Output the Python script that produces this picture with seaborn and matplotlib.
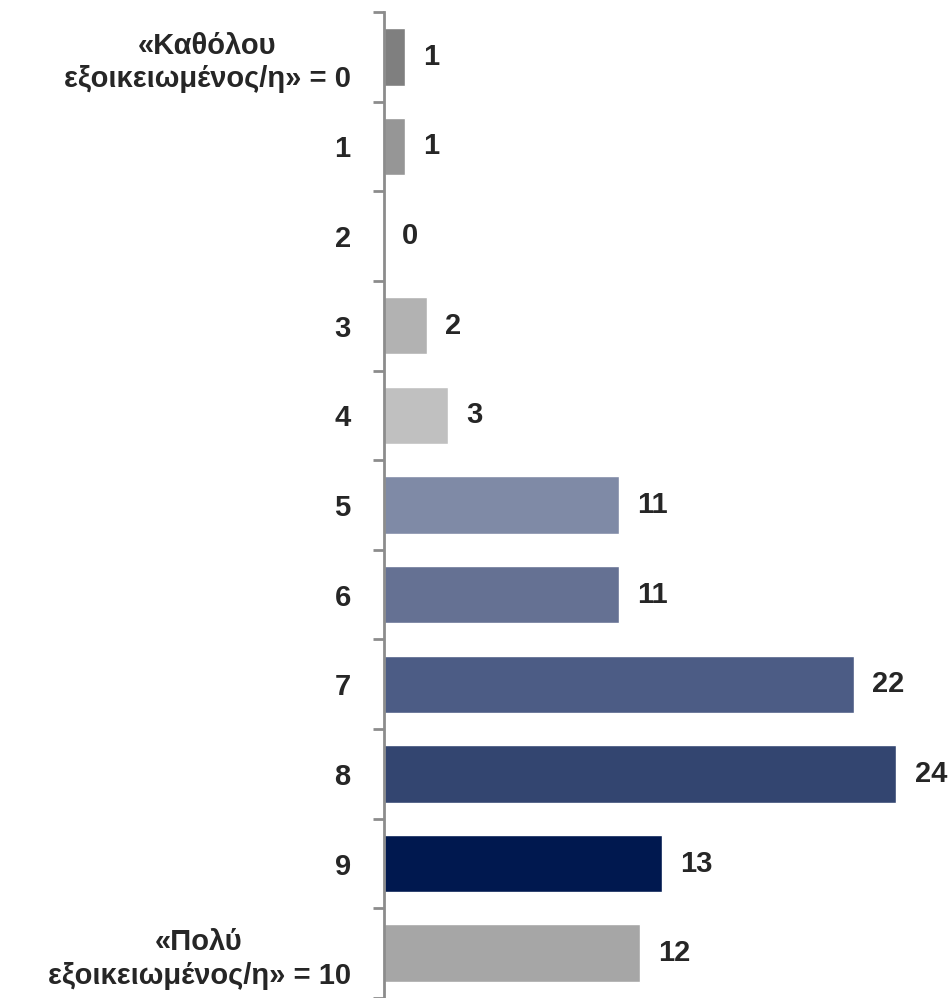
import matplotlib
matplotlib.use("Agg")
import matplotlib.pyplot as plt
import seaborn as sns
import pandas as pd

# Data
categories = ["«Καθόλου\nεξοικειωμένος/η» = 0", "1", "2", "3", "4", "5",
              "6", "7", "8", "9", "«Πολύ\nεξοικειωμένος/η» = 10"]
values = [1, 1, 0, 2, 3, 11, 11, 22, 24, 13, 12]
bar_colors = ["#7f7f7f", "#969696", "#a6a6a6", "#b2b2b2", "#c0c0c0", "#7f8aa6",
              "#657193", "#4c5c85", "#334570", "#00184f", "#a6a6a6"]

sns.set_style("white")
plt.rcParams["font.family"] = ["Liberation Sans", "DejaVu Sans"]

df = pd.DataFrame({"cat": categories, "val": values})

fig = plt.figure(figsize=(9.52, 9.98), dpi=100)
ax = fig.add_axes([384 / 952, 0.0, 1 - 384 / 952, 1 - 12 / 998])

sns.barplot(data=df, x="val", y="cat", hue="cat", order=categories,
            palette=dict(zip(categories, bar_colors)), legend=False,
            width=0.64, orient="h", saturation=1, ax=ax)

ax.set_xlim(0, 26.6)
ax.set_ylim(10.5, -0.5)
ax.set_xlabel("")
ax.set_ylabel("")
ax.set_xticks([])

for sp in ["top", "right", "bottom"]:
    ax.spines[sp].set_visible(False)
ax.spines["left"].set_color("#8c8c8c")
ax.spines["left"].set_linewidth(2)

# ticks between categories
ax.set_yticks([i - 0.5 for i in range(12)], minor=True)
ax.tick_params(axis="y", which="minor", left=True, length=8, width=2,
               color="#8c8c8c", direction="out")
ax.tick_params(axis="y", which="major", left=True, length=0, pad=24,
               labelsize=21, labelcolor="#262626")
for lbl in ax.get_yticklabels():
    lbl.set_fontweight("bold")
    lbl.set_multialignment("center")
    lbl.set_linespacing(1.25)

for i, v in enumerate(values):
    ax.text(v + 0.85, i, str(v), va="center", ha="left", fontsize=21,
            fontweight="bold", color="#262626")

fig.savefig("out.png", dpi=100)
